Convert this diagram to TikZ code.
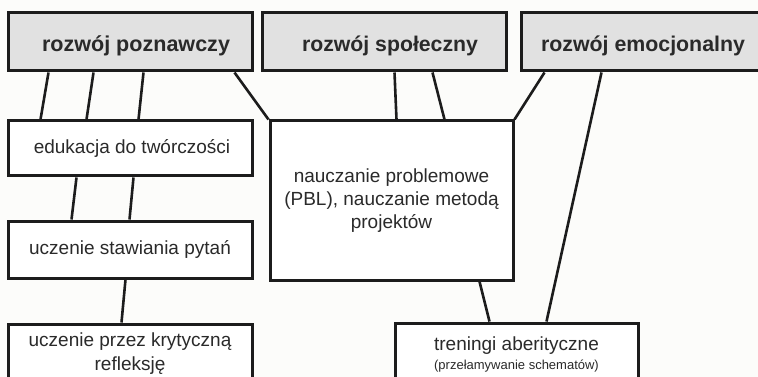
\documentclass[tikz,border=0pt]{standalone}
\usepackage{fontspec}
\setmainfont{Liberation Sans}
\usetikzlibrary{calc}
\definecolor{bg}{HTML}{FCFCFA}
\definecolor{hdr}{HTML}{E1E1E1}
\definecolor{ink}{HTML}{1C1C1C}
\definecolor{txt}{HTML}{2A2A2A}
\newcommand{\hdrtext}[2]{\resizebox{#1}{!}{\fontsize{21.5}{26}\selectfont\bfseries #2}}
\begin{document}
\begin{tikzpicture}[x=1pt,y=-1pt,
  box/.style={draw=ink,line width=3pt,fill=white,rectangle,inner sep=0pt,align=center,text=txt,font=\fontsize{19}{23}\selectfont},
  headbox/.style={box,fill=hdr,text height=20pt,text depth=0pt},
  link/.style={draw=ink,line width=2.6pt}]
\fill[bg] (0,0) rectangle (758,377);
\useasboundingbox (0,0) rectangle (758,377);
% header boxes
\node[headbox,minimum width=244pt,minimum height=58pt] (pozn) at (130,42) {\hspace*{12pt}\hdrtext{188pt}{rozwój poznawczy}};
\node[headbox,minimum width=244pt,minimum height=58pt] (spol) at (384,42) {\hspace*{12pt}\hdrtext{176pt}{rozwój społeczny}};
\node[headbox,minimum width=244pt,minimum height=58pt] (emoc) at (643,42) {\hdrtext{204pt}{rozwój emocjonalny}};
% left column
\node[box,minimum width=244pt,minimum height=55pt] (eduk) at (130,148.5) {\hspace*{4pt}edukacja do twórczości};
\node[box,minimum width=244pt,minimum height=57pt] (pyt) at (130,249.5) {uczenie stawiania pytań};
\node[box,minimum width=244pt,minimum height=59pt] (kryt) at (130,353.5) {uczenie przez krytyczną\\[1pt]refleksję};
% middle
\node[box,minimum width=243pt,minimum height=159pt] (pbl) at (391.5,200.5) {nauczanie problemowe\\(PBL), nauczanie metodą\\projektów};
\node[box,minimum width=243pt,minimum height=62pt] (tren) at (516.5,354) {treningi aberityczne\\[-4pt]{\fontsize{13}{15}\selectfont (przełamywanie schematów)}};
% connectors
\draw[link] ($(pozn.south west)+(42,0)$) -- ($(eduk.north west)+(34,0)$);
\draw[link] ($(pozn.south west)+(87,0)$) -- ($(eduk.north west)+(80,0)$);
\draw[link] ($(pozn.south west)+(137,0)$) -- ($(eduk.north west)+(132,0)$);
\draw[link] ($(pozn.south east)+(-19,0)$) -- (pbl.north west);
\draw[link] ($(spol.south west)+(134,0)$) -- ($(pbl.north west)+(128,0)$);
\draw[link] ($(spol.south west)+(172,0)$) -- ($(pbl.north west)+(176,0)$);
\draw[link] ($(emoc.south west)+(25,0)$) -- (pbl.north east);
\draw[link] ($(emoc.south west)+(82,0)$) -- ($(tren.north west)+(153,0)$);
\draw[link] ($(eduk.south west)+(70,0)$) -- ($(pyt.north west)+(65,0)$);
\draw[link] ($(eduk.south west)+(127,0)$) -- ($(pyt.north west)+(123,0)$);
\draw[link] ($(pyt.south west)+(119,0)$) -- ($(kryt.north west)+(115,0)$);
\draw[link] ($(pbl.south west)+(211,0)$) -- ($(tren.north west)+(96,0)$);
\end{tikzpicture}
\end{document}
